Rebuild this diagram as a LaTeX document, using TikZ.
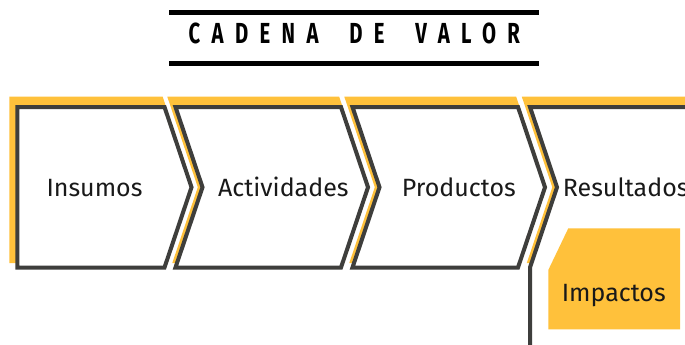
\documentclass[tikz,border=0pt]{standalone}
\usepackage{fontspec, graphicx}
\setmainfont{Fira Sans}
\newfontfamily\titlefont[LetterSpace=56, WordSpace=1.9]{Fira Sans}
\usetikzlibrary{positioning}
\definecolor{valyellow}{RGB}{255,193,59}
\definecolor{valgray}{RGB}{62,62,60}
\tikzset{x=1pt, y=-1pt,
backband/.style={fill=valyellow},
stagebox/.style={draw=valgray, fill=white, line width=4pt, miter limit=10},
stagetext/.style={font=\fontsize{25}{30}\selectfont, text=black!90, inner sep=0pt},
titlebar/.style={fill=black},
}

\begin{document}
\begin{tikzpicture}
    \clip (0,0) rectangle (685,345);
    \fill[white] (0,0) rectangle (685,345);

    \fill[titlebar] (169.3,10) rectangle (538.7,15.3);
    \fill[titlebar] (169.3,61) rectangle (538.7,66);
    \node[anchor=base west, inner sep=0pt] (title) at (188.5,43.7)
        {\scalebox{0.7}[1]{\fontsize{29}{34}\titlefont\bfseries CADENA DE VALOR}};

    \fill[backband] (9.3,96.7) -- (162.7,96.7) -- (193.2,187.25) -- (167.7,263) -- (9.3,263) -- cycle;
    \fill[backband] (167.3,96.7) -- (339.2,96.7) -- (369.7,187.25) -- (344.2,263) -- (172.3,263) -- (197.8,187.25) -- cycle;
    \fill[backband] (344.3,96.7) -- (516.2,96.7) -- (546.7,187.25) -- (521.2,263) -- (349.3,263) -- (374.8,187.25) -- cycle;
    \fill[backband] (521.8,96.7) -- (700,96.7) -- (700,263) -- (526.8,263) -- (552.3,187.25) -- cycle;

    \draw[stagebox] (17.3,107) -- (164.5,107) -- (191.5,187.25) -- (164.5,267.5) -- (17.3,267.5) -- cycle;
    \draw[stagebox] (175.5,107) -- (341,107) -- (368,187.25) -- (341,267.5) -- (175.5,267.5) -- (202.5,187.25) -- cycle;
    \draw[stagebox] (352.5,107) -- (518,107) -- (545,187.25) -- (518,267.5) -- (352.5,267.5) -- (379.5,187.25) -- cycle;
    \fill[white] (700,107) -- (530,107) -- (557,187.25) -- (530,267.5) -- (530,350) -- (700,350) -- cycle;
    \draw[stagebox, fill=none] (700,107) -- (530,107) -- (557,187.25) -- (530,267.5) -- (530,350);

    \fill[backband] (548.3,270) -- (568.3,228.3) -- (680,228.3) -- (680,329.3) -- (548.3,329.3) -- cycle;

    \node[stagetext, anchor=base] (insumos) at (94.5,196.7) {Insumos};
    \node[stagetext, anchor=base] (actividades) at (283.3,196.7) {Actividades};
    \node[stagetext, anchor=base] (productos) at (458.8,196.7) {Productos};
    \node[stagetext, anchor=base west] (resultados) at (562.7,196.7) {Resultados};
    \node[stagetext, anchor=base] (impactos) at (613.8,301) {Impactos};
\end{tikzpicture}
\end{document}
